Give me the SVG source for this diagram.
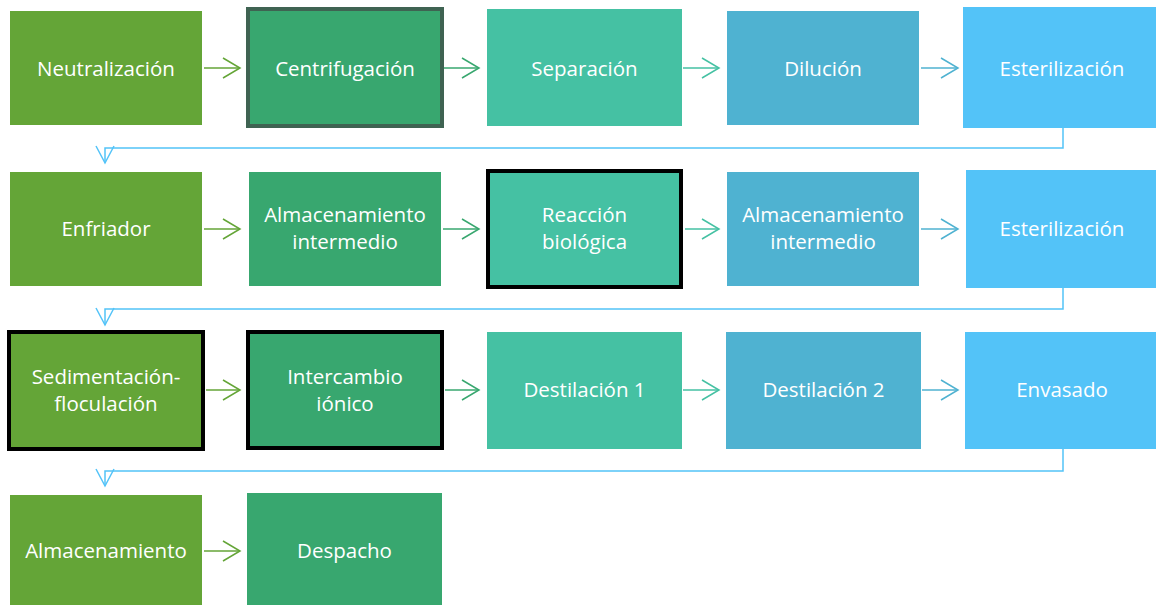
<svg xmlns="http://www.w3.org/2000/svg" width="1156" height="605" viewBox="0 0 1156 605">
<style>
.t{font-family:"Open Sans","Noto Sans","DejaVu Sans",sans-serif;font-size:20.5px;fill:#ffffff;text-anchor:middle}
.c1{fill:#64A537}.c2{fill:#38A76F}.c3{fill:#45C1A3}.c4{fill:#4FB2D1}.c5{fill:#53C3F8}
.bk{stroke:#000000;stroke-width:4}
.dk{stroke:#3F6352;stroke-width:4}
.ln{fill:none;stroke-width:1.5}
</style>
<defs>
<marker id="m1" markerUnits="userSpaceOnUse" markerWidth="20" markerHeight="24" refX="17" refY="11" orient="auto" overflow="visible"><path d="M0,1 L17,11 L0,21" fill="none" stroke="#64A537" stroke-width="1.5"/></marker>
<marker id="m2" markerUnits="userSpaceOnUse" markerWidth="20" markerHeight="24" refX="17" refY="11" orient="auto" overflow="visible"><path d="M0,1 L17,11 L0,21" fill="none" stroke="#38A76F" stroke-width="1.5"/></marker>
<marker id="m3" markerUnits="userSpaceOnUse" markerWidth="20" markerHeight="24" refX="17" refY="11" orient="auto" overflow="visible"><path d="M0,1 L17,11 L0,21" fill="none" stroke="#45C1A3" stroke-width="1.5"/></marker>
<marker id="m4" markerUnits="userSpaceOnUse" markerWidth="20" markerHeight="24" refX="17" refY="11" orient="auto" overflow="visible"><path d="M0,1 L17,11 L0,21" fill="none" stroke="#4FB2D1" stroke-width="1.5"/></marker>
<marker id="m5" markerUnits="userSpaceOnUse" markerWidth="20" markerHeight="24" refX="17" refY="11" orient="auto" overflow="visible"><path d="M0,2 L17,11 L0,20" fill="none" stroke="#53C3F8" stroke-width="1.5"/></marker>
</defs>

<g id="connectors">
<path class="ln" stroke="#64A537" d="M204,68 H240" marker-end="url(#m1)"/>
<path class="ln" stroke="#38A76F" d="M444,68 H479" marker-end="url(#m2)"/>
<path class="ln" stroke="#45C1A3" d="M683,68 H719" marker-end="url(#m3)"/>
<path class="ln" stroke="#4FB2D1" d="M921,68 H958" marker-end="url(#m4)"/>
<path class="ln" stroke="#53C3F8" d="M1063,128 V148 H105 V163" marker-end="url(#m5)"/>

<path class="ln" stroke="#64A537" d="M204,229 H240" marker-end="url(#m1)"/>
<path class="ln" stroke="#38A76F" d="M443,229 H479" marker-end="url(#m2)"/>
<path class="ln" stroke="#45C1A3" d="M685,229 H719" marker-end="url(#m3)"/>
<path class="ln" stroke="#4FB2D1" d="M921,229 H958" marker-end="url(#m4)"/>
<path class="ln" stroke="#53C3F8" d="M1063,288 V309 H105 V325" marker-end="url(#m5)"/>

<path class="ln" stroke="#64A537" d="M206,390 H240" marker-end="url(#m1)"/>
<path class="ln" stroke="#38A76F" d="M445,390 H479" marker-end="url(#m2)"/>
<path class="ln" stroke="#45C1A3" d="M683,390 H719" marker-end="url(#m3)"/>
<path class="ln" stroke="#4FB2D1" d="M922,390 H958" marker-end="url(#m4)"/>
<path class="ln" stroke="#53C3F8" d="M1063,449 V471 H105 V486" marker-end="url(#m5)"/>

<path class="ln" stroke="#64A537" d="M204,551 H240" marker-end="url(#m1)"/>
</g>

<g id="n-neutralizacion"><rect class="c1" x="10" y="11" width="192" height="114"/><text class="t" x="106" y="75.5">Neutralización</text></g>
<g id="n-centrifugacion"><rect class="c2 dk" x="248" y="9" width="194" height="117"/><text class="t" x="345" y="75.5">Centrifugación</text></g>
<g id="n-separacion"><rect class="c3" x="487" y="9" width="195" height="117"/><text class="t" x="584.5" y="75.5">Separación</text></g>
<g id="n-dilucion"><rect class="c4" x="727" y="11" width="192" height="114"/><text class="t" x="823" y="75.5">Dilución</text></g>
<g id="n-esterilizacion1"><rect class="c5" x="963" y="7" width="198" height="121"/><text class="t" x="1062" y="75.5">Esterilización</text></g>

<g id="n-enfriador"><rect class="c1" x="10" y="172" width="192" height="114"/><text class="t" x="106" y="236">Enfriador</text></g>
<g id="n-almacenamiento-intermedio1"><rect class="c2" x="249" y="172" width="192" height="114"/><text class="t" x="345" y="222">Almacenamiento</text><text class="t" x="345" y="249">intermedio</text></g>
<g id="n-reaccion"><rect class="c3 bk" x="488" y="171" width="193" height="116"/><text class="t" x="584.5" y="222">Reacción</text><text class="t" x="584.5" y="249">biológica</text></g>
<g id="n-almacenamiento-intermedio2"><rect class="c4" x="727" y="172" width="192" height="114"/><text class="t" x="823" y="222">Almacenamiento</text><text class="t" x="823" y="249">intermedio</text></g>
<g id="n-esterilizacion2"><rect class="c5" x="966" y="170" width="195" height="118"/><text class="t" x="1062" y="236">Esterilización</text></g>

<g id="n-sedimentacion"><rect class="c1 bk" x="9" y="332" width="194" height="117"/><text class="t" x="106" y="384">Sedimentación-</text><text class="t" x="106" y="411">floculación</text></g>
<g id="n-intercambio"><rect class="c2 bk" x="248" y="332" width="194" height="116"/><text class="t" x="345" y="384">Intercambio</text><text class="t" x="345" y="411">iónico</text></g>
<g id="n-destilacion1"><rect class="c3" x="487" y="332" width="195" height="117"/><text class="t" x="584.5" y="397">Destilación 1</text></g>
<g id="n-destilacion2"><rect class="c4" x="726" y="332" width="195" height="117"/><text class="t" x="823.5" y="397">Destilación 2</text></g>
<g id="n-envasado"><rect class="c5" x="965" y="332" width="196" height="117"/><text class="t" x="1062" y="397">Envasado</text></g>

<g id="n-almacenamiento"><rect class="c1" x="10" y="495" width="192" height="112"/><text class="t" x="106" y="558">Almacenamiento</text></g>
<g id="n-despacho"><rect class="c2" x="247" y="493" width="195" height="114"/><text class="t" x="344.5" y="558">Despacho</text></g>
</svg>
